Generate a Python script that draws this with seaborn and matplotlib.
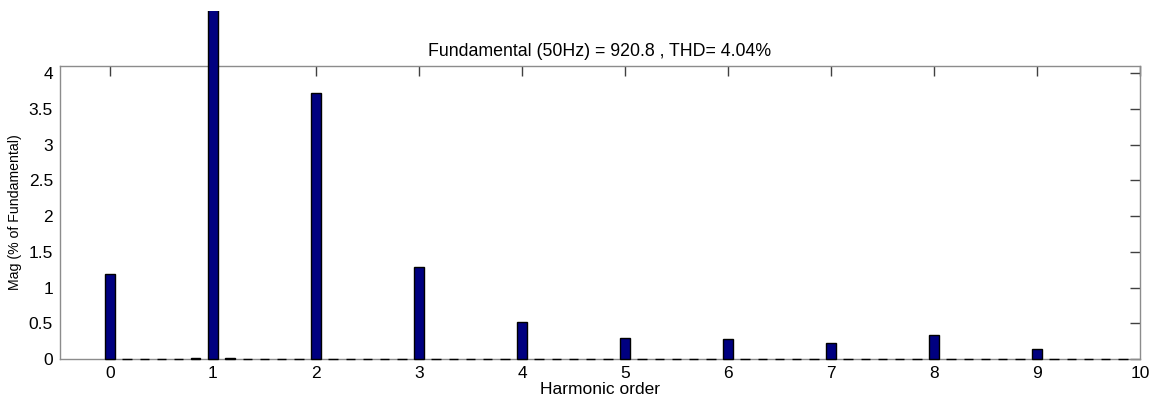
import numpy as np
import pandas as pd
import seaborn as sns
import matplotlib
matplotlib.use("Agg")
import matplotlib.pyplot as plt
from matplotlib.patches import Rectangle
from matplotlib.ticker import FormatStrFormatter

# FFT bins at 50/6 Hz resolution -> 6 bins per harmonic order
bin_index = np.arange(60)
# magnitude of each bin in % of fundamental
mag = [
    1.19, 0.005, 0.005, 0.005, 0.005, 0.02,
    100.0, 0.02, 0.005, 0.005, 0.005, 0.005,
    3.73, 0.005, 0.005, 0.005, 0.005, 0.005,
    1.29, 0.005, 0.005, 0.005, 0.005, 0.005,
    0.52, 0.005, 0.005, 0.005, 0.005, 0.005,
    0.30, 0.005, 0.005, 0.005, 0.005, 0.005,
    0.28, 0.005, 0.005, 0.005, 0.005, 0.005,
    0.22, 0.005, 0.005, 0.005, 0.005, 0.005,
    0.33, 0.005, 0.005, 0.005, 0.005, 0.005,
    0.14, 0.005, 0.005, 0.005, 0.005, 0.005,
]
title = "Fundamental (50Hz) = 920.8 , THD= 4.04%"

df = pd.DataFrame({"order": bin_index / 6, "mag": mag})

sns.set_style("white")
plt.rcParams["font.family"] = ["Liberation Sans", "DejaVu Sans"]
plt.rcParams["text.color"] = "black"
plt.rcParams["xtick.labelcolor"] = "black"
plt.rcParams["ytick.labelcolor"] = "black"
plt.rcParams["axes.labelcolor"] = "black"

fig = plt.figure(figsize=(11.6, 3.98), dpi=100)
ax = fig.add_axes([0.0517, 0.098, 0.9311, 0.736])

sns.barplot(data=df, x="order", y="mag", native_scale=True, width=0.55,
            color="#000080", saturation=1, edgecolor="black", linewidth=1,
            errorbar=None, ax=ax)

# MATLAB draws the clipped fundamental bar past the axes box
clip = Rectangle((0, 0), 1, 0.972, transform=fig.transFigure)
for p in ax.patches:
    p.set_zorder(3)
    p.set_clip_on(True)
    p.set_clip_box(None)
    p.set_clip_path(clip)

ax.set_xlim(-0.485, 10)
ax.set_ylim(0, 4.1)
ax.set_xticks(range(11))
ax.set_xticklabels([str(i) for i in range(11)])
ax.set_yticks(np.arange(0, 4.01, 0.5))
ax.yaxis.set_major_formatter(FormatStrFormatter("%g"))

for s in ax.spines.values():
    s.set_visible(True)
    s.set_color("#8c8c8c")
    s.set_linewidth(1)
ax.tick_params(direction="in", length=7, width=1, color="#404040",
               top=True, right=True, labelsize=12.5, pad=5)

ax.set_title(title, fontsize=12.8, pad=7, color="black")
ax.set_xlabel("Harmonic order", fontsize=12.5, labelpad=1)
ax.set_ylabel("Mag (% of Fundamental)", fontsize=10.2, labelpad=5)

fig.savefig("out.png", dpi=100)
